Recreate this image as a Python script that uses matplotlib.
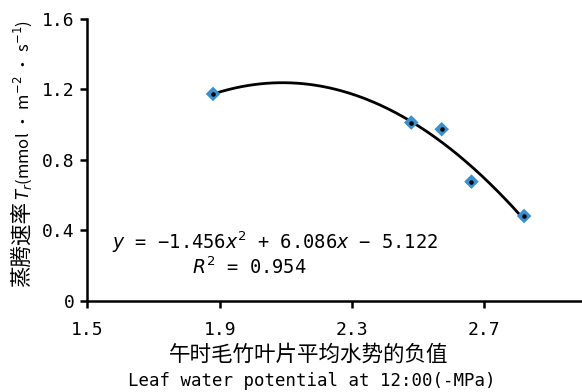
import matplotlib
matplotlib.use("Agg")
import matplotlib.pyplot as plt
import numpy as np

plt.rcParams['font.family'] = ['Noto Sans CJK SC', 'DejaVu Sans']
plt.rcParams['mathtext.fontset'] = 'dejavusans'

# Measured points
leaf_potential = [1.880, 2.479, 2.571, 2.661, 2.820]
transpiration = [1.174, 1.012, 0.974, 0.677, 0.482]

# Quadratic trendline coefficients (from the chart's equation)
fit_coef = [-1.456, 6.086, -5.122]

x_ticks = [1.5, 1.9, 2.3, 2.7]
y_ticks = [0, 0.4, 0.8, 1.2, 1.6]
y_tick_labels = ["0", "0.4", "0.8", "1.2", "1.6"]

mono = "DejaVu Sans Mono"

fig = plt.figure(figsize=(5.82, 3.92), dpi=100)
ax = fig.add_axes([0.150, 0.232, 0.850, 0.720])

# Trendline over the data range
xs = np.linspace(min(leaf_potential), max(leaf_potential), 200)
ax.plot(xs, np.polyval(fit_coef, xs), color="black", lw=2, zorder=2)

# Diamond markers with a small black dot in the middle
ax.scatter(leaf_potential, transpiration, marker="D", s=55, color="#3a8fcc",
           edgecolors="none", zorder=3)
ax.scatter(leaf_potential, transpiration, marker="o", s=5, color="black", zorder=4)

ax.set_xlim(1.5, 2.995)
ax.set_ylim(0, 1.6)

ax.spines["top"].set_visible(False)
ax.spines["right"].set_visible(False)
for s in ("left", "bottom"):
    ax.spines[s].set_linewidth(1.8)

ax.set_xticks(x_ticks)
ax.set_xticklabels([f"{v:.1f}" for v in x_ticks], family=mono)
ax.set_yticks(y_ticks)
ax.set_yticklabels(y_tick_labels, family=mono)
ax.tick_params(axis="both", direction="out", length=5, width=1.8,
               labelsize=13, pad=4)
ax.tick_params(axis="x", pad=9)

# Equation text
ax.text(2.066, 0.335, r"$y$ = −1.456$x^2$ + 6.086$x$ − 5.122",
        ha="center", va="center", fontsize=13.5, family=mono)
ax.text(1.99, 0.19, r"$R^2$ = 0.954", ha="center", va="center",
        fontsize=13.5, family=mono)

# Y label: Chinese part and units part
fig.text(22 / 582, 1 - 287 / 392, "蒸腾速率", rotation=90, ha="center",
         va="bottom", fontsize=15.5)
fig.text(23 / 582, 1 - 200 / 392, r"$T_r$(mmol · m$^{-2}$ · s$^{-1}$)",
         rotation=90, ha="center", va="bottom", fontsize=12)

# X label
fig.text(0.53, 0.095, "午时毛竹叶片平均水势的负值", ha="center", va="center",
         fontsize=15.5)
fig.text(0.535, 0.028, "Leaf water potential at 12:00(-MPa)", ha="center",
         va="center", fontsize=12.5, family=mono)

fig.savefig("out.png", dpi=100)
